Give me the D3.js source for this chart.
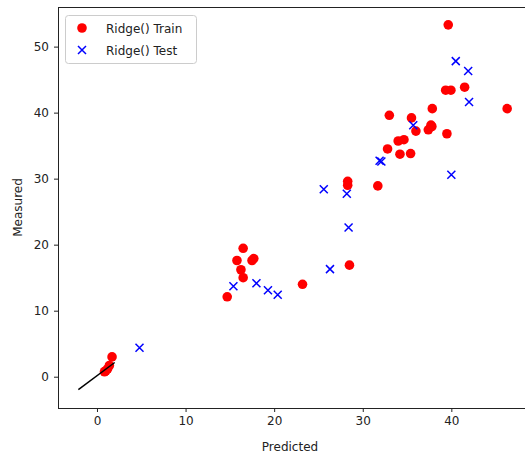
<!DOCTYPE html>
<html><head><meta charset="utf-8">
<script src="https://cdn.jsdelivr.net/npm/d3@7"></script>
<style>body{margin:0;background:#fff}svg{display:block}text{font-family:"DejaVu Sans",sans-serif}</style>
</head><body>
<svg id="c" width="525" height="458"></svg>
<script>
const trainX = [39.65, 39.36, 39.95, 41.5, 33.0, 37.85, 46.3, 35.5, 37.7, 36.0, 37.4, 37.8, 39.5, 34.0, 34.65, 32.8, 34.2, 35.4, 28.3, 28.3, 31.7, 28.5, 23.2, 16.5, 15.8, 17.5, 17.7, 16.25, 16.5, 14.7, 1.7, 1.4, 1.2, 1.0, 0.85];
const trainY = [53.3, 43.4, 43.4, 43.85, 39.6, 40.6, 40.6, 39.2, 38.1, 37.2, 37.4, 37.9, 36.8, 35.7, 35.9, 34.5, 33.7, 33.8, 29.6, 29.0, 28.9, 16.9, 14.0, 19.45, 17.6, 17.6, 17.9, 16.2, 15.0, 12.1, 3.0, 1.7, 1.2, 0.9, 0.75];
const testX = [40.5, 41.9, 42.0, 35.7, 31.9, 32.1, 40.0, 25.6, 28.2, 28.4, 26.3, 15.4, 18.0, 19.3, 20.4, 4.8];
const testY = [47.8, 46.3, 41.6, 38.1, 32.7, 32.6, 30.6, 28.4, 27.7, 22.6, 16.3, 13.7, 14.15, 13.1, 12.4, 4.4];
const lineX = [-2.1, 2.0];
const lineY = [-1.95, 2.15];
const xTicks = [0, 10, 20, 30, 40];
const yTicks = [0, 10, 20, 30, 40, 50];
const seriesNames = ["Ridge() Train", "Ridge() Test"];

const svg = d3.select("#c");
const L = 58, R = 527, T = 7, B = 408;
const x = d3.scaleLinear().domain([-4.40, 48.54]).range([L, R]);
const y = d3.scaleLinear().domain([-4.74, 56.0]).range([B, T]);

const g = svg.append("g");
g.selectAll("circle.tr").data(trainX.map((v,i)=>[v,trainY[i]])).enter()
  .append("circle").attr("cx", d=>x(d[0])).attr("cy", d=>y(d[1])).attr("r", 4.8).attr("fill", "#ff0000");
const s = 4;
const testG = g.selectAll("g.te").data(testX.map((v,i)=>[v,testY[i]])).enter()
  .append("g").attr("transform", d=>`translate(${x(d[0])},${y(d[1])})`);
testG.append("path").attr("d", `M${-s},${-s}L${s},${s}M${-s},${s}L${s},${-s}`)
  .attr("stroke", "#0000ff").attr("stroke-width", 1.5).attr("fill", "none");
g.append("path").datum(lineX.map((v,i)=>[v,lineY[i]]))
  .attr("d", d3.line().x(d=>x(d[0])).y(d=>y(d[1])))
  .attr("stroke", "#000").attr("stroke-width", 1.5).attr("fill", "none");

const xa = svg.append("g").attr("transform", `translate(0,${B})`)
  .call(d3.axisBottom(x).tickValues(xTicks).tickSize(4).tickPadding(4).tickSizeOuter(0));
const ya = svg.append("g").attr("transform", `translate(${L},0)`)
  .call(d3.axisLeft(y).tickValues(yTicks).tickSize(4).tickPadding(5).tickSizeOuter(0));
[xa, ya].forEach(a => {
  a.select(".domain").remove();
  a.selectAll("line").attr("stroke", "#222");
  a.selectAll("text").attr("font-size", 12).attr("fill", "#222").attr("font-family", "DejaVu Sans");
});
svg.append("rect").attr("x", L + 0.5).attr("y", T + 0.5).attr("width", R - L).attr("height", B - T)
  .attr("fill", "none").attr("stroke", "#222").attr("stroke-width", 1);

svg.append("text").attr("x", 290).attr("y", 451).attr("text-anchor", "middle")
  .attr("font-size", 12).attr("fill", "#222").text("Predicted");
svg.append("text").attr("transform", `translate(22,${(T + B) / 2}) rotate(-90)`).attr("text-anchor", "middle")
  .attr("font-size", 12).attr("fill", "#222").text("Measured");

const lg = svg.append("g");
lg.append("rect").attr("x", 65.5).attr("y", 15.5).attr("width", 131).attr("height", 48).attr("rx", 3)
  .attr("fill", "#fff").attr("fill-opacity", 0.8).attr("stroke", "#ccc");
lg.append("circle").attr("cx", 82).attr("cy", 28).attr("r", 4.8).attr("fill", "#ff0000");
lg.append("path").attr("d", `M${82-s},${50-s}L${82+s},${50+s}M${82-s},${50+s}L${82+s},${50-s}`)
  .attr("stroke", "#0000ff").attr("stroke-width", 1.5);
lg.selectAll("text.l").data(seriesNames).enter().append("text")
  .attr("x", 106).attr("y", (d,i)=>32.5 + i*22).attr("font-size", 12).attr("fill", "#222").text(d=>d);
</script>
</body></html>
